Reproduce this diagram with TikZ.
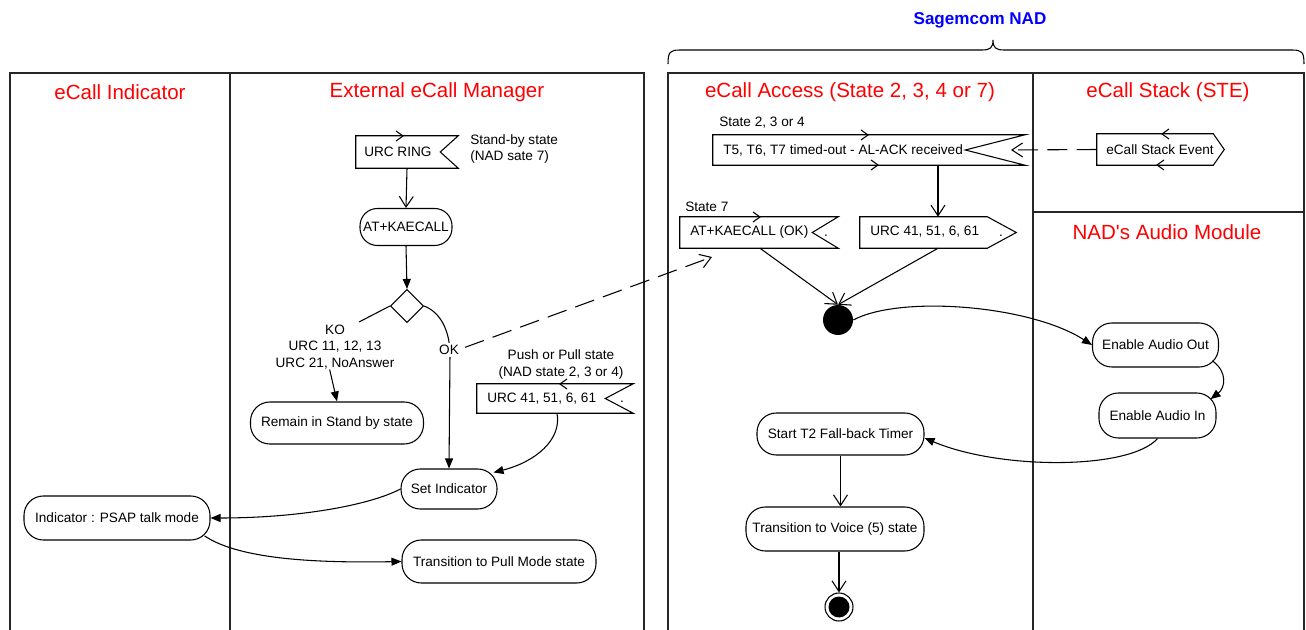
\documentclass[tikz,border=0pt]{standalone}
\usepackage{fontspec}
\setmainfont{Liberation Sans}[Ligatures=TeXOff]
\usetikzlibrary{arrows.meta,shapes.geometric}

% outline of a "receive signal" box (notched on the right)
\newcommand\recvoutline[2]{\draw[line] (#1.north west) -- (#1.north east) -- ([xshift=-#2*0.75pt]#1.east) -- (#1.south east) -- (#1.south west) -- cycle;}
% outline of a "send signal" box (pointed on the right)
\newcommand\sendoutline[2]{\draw[line] (#1.north west) -- ([xshift=-#2*0.75pt]#1.north east) -- (#1.east) -- ([xshift=-#2*0.75pt]#1.south east) -- (#1.south west) -- cycle;}
% small port chevrons on signal boxes
\newcommand\chevR[2]{\draw[line] (#1-7,#2-5) -- (#1,#2) -- (#1-7,#2+5);}
\newcommand\chevL[2]{\draw[line] (#1+7,#2-5) -- (#1,#2) -- (#1+7,#2+5);}

\begin{document}
\begin{tikzpicture}[x=0.75pt,y=-0.75pt,
  every node/.style={font=\fontsize{10.2}{12.5}\selectfont, inner sep=0pt},
  line/.style={draw=black, line width=0.8pt},
  lane/.style={draw=black!85, line width=1pt},
  head/.style={text=red, font=\fontsize{15.4}{18}\selectfont},
  act/.style={draw, line width=0.8pt, rounded corners=14.5pt, align=center},
  sig/.style={draw=none},
  openarr/.style={-{Straight Barb[length=8pt,width=10.5pt]}},
  fillarr/.style={-{Triangle[length=7.5pt,width=6pt]}},
  longdash/.style={dash pattern=on 15pt off 7pt}
]
\useasboundingbox (0,0) rectangle (1306,630);

% ---------- swimlanes ----------
\draw[lane] (10,630) -- (10,73) -- (644,73) -- (644,630);
\draw[lane] (230,73) -- (230,630);
\draw[lane] (668,630) -- (668,73) -- (1304,73) -- (1304,630);
\draw[lane] (1033,73) -- (1033,630);
\draw[lane] (1033,212) -- (1304,212);

% brace over the NAD lanes
\draw[line] (668,64) .. controls (668,52) and (670,50) .. (680,50) -- (982,50)
  .. controls (990,50) and (993,48) .. (993,40)
  .. controls (993,48) and (996,50) .. (1004,50) -- (1292,50)
  .. controls (1302,50) and (1304,52) .. (1304,64);
\node[text=blue, font=\fontsize{12.8}{15}\selectfont\bfseries] (nad) at (980,20) {Sagemcom NAD};

% lane headers
\node[head] (hind) at (120,92) {eCall Indicator};
\node[head] (hmgr) at (437,92) {External eCall Manager};
\node[head] (hacc) at (850,92) {eCall Access (State 2, 3, 4 or 7)};
\node[head] (hstk) at (1168,92) {eCall Stack (STE)};
\node[head] (haud) at (1167,232) {NAD's Audio Module};

% ---------- External eCall Manager ----------
\node[sig, minimum width=102*0.75pt, minimum height=32*0.75pt] (ring) at (407,152) {};
\recvoutline{ring}{18}
\chevR{403}{136}
\node[anchor=west] (ringtxt) at (364,152) {URC RING};
\node[anchor=west, align=left] (standby) at (470,149) {Stand-by state\\(NAD sate 7)};

\node[act, rounded corners=13pt, minimum width=92*0.75pt, minimum height=37*0.75pt] (kae) at (406,227) {AT+KAECALL};
\node[diamond, draw, line width=0.8pt, minimum width=33*0.75pt, minimum height=33*0.75pt] (dec) at (407,306) {};

\node[align=center] (ko) at (335,347) {KO\\URC 11, 12, 13\\URC 21, NoAnswer};
\coordinate (kotip) at (359,322);
\node[act, minimum width=173*0.75pt, minimum height=42*0.75pt] (remain) at (337,423) {Remain in Stand by state};

\node[align=center] (pushlbl) at (561,364.5) {Push or Pull state\\(NAD state 2, 3 or 4)};
\node[sig, minimum width=156*0.75pt, minimum height=29*0.75pt] (urcpush) at (555,398.5) {};
\recvoutline{urcpush}{28}
\chevL{560}{384}
\node[anchor=west] (urcpushtxt) at (487,399) {URC 41, 51, 6, 61};
\node (urcpushdot) at (622,402) {.};

\node[act, minimum width=96*0.75pt, minimum height=40*0.75pt] (setind) at (449,489) {Set Indicator};
\node[act, minimum width=194*0.75pt, minimum height=43*0.75pt] (pull) at (499,561.5) {Transition to Pull Mode state};

% ---------- eCall Indicator ----------
\node[act, minimum width=186*0.75pt, minimum height=44*0.75pt] (ind) at (117,518) {Indicator : PSAP talk mode};

% ---------- eCall Access ----------
\node[anchor=west] (st234) at (719,123) {State 2, 3 or 4};
\node[sig, minimum width=312*0.75pt, minimum height=30*0.75pt] (t5) at (869,150) {};
\recvoutline{t5}{60}
\chevR{868}{135}
\chevR{878}{165}
\node[anchor=west] (t5txt) at (723,150) {T5, T6, T7 timed-out - AL-ACK received};

\node[anchor=west] (st7) at (685,207) {State 7};
\node[sig, minimum width=158*0.75pt, minimum height=31*0.75pt] (kaeok) at (759,232.5) {};
\recvoutline{kaeok}{26}
\chevR{760}{217}
\node[anchor=west] (kaeoktxt) at (690,232) {AT+KAECALL (OK)};
\node (kaeokdot) at (826,236) {.};
\coordinate (kaeokin) at (712,257);

\node[sig, minimum width=156*0.75pt, minimum height=31*0.75pt] (urcsend) at (938,232.5) {};
\sendoutline{urcsend}{29}
\node[anchor=west] (urcsendtxt) at (870,232) {URC 41, 51, 6, 61};
\node (urcsenddot) at (1001,236) {.};

\node[circle, fill=black, minimum size=30*0.75pt] (join) at (838,320) {};

\node[act, minimum width=167*0.75pt, minimum height=42*0.75pt] (t2) at (840.5,434) {Start T2 Fall-back Timer};
\node[act, minimum width=178*0.75pt, minimum height=44*0.75pt] (voice) at (835,529) {Transition to Voice (5) state};
\node[circle, draw, line width=0.8pt, minimum size=28*0.75pt] (fin) at (839,607) {};
\node[circle, fill=black, minimum size=21*0.75pt] (fincore) at (fin) {};

% ---------- eCall Stack ----------
\node[sig, minimum width=127*0.75pt, minimum height=31*0.75pt] (stk) at (1160.5,149.5) {};
\sendoutline{stk}{11}
\chevL{1162}{134}
\chevL{1157}{165}
\node (stktxt) at (1160,150) {eCall Stack Event};
\coordinate (stkin) at (1011,150);

% ---------- NAD's Audio Module ----------
\node[act, minimum width=126*0.75pt, minimum height=44*0.75pt] (aout) at (1155.5,345) {Enable Audio Out};
\node[act, minimum width=117*0.75pt, minimum height=45*0.75pt] (ain) at (1157.5,415.5) {Enable Audio In};

% ---------- connectors ----------
\draw[line, openarr] (ring.south) -- (kae.north);
\draw[line, fillarr] (kae.south) -- (dec.north);
\draw[line] (dec.west) -- (kotip);
\draw[line, fillarr] ([xshift=-4pt]ko.south) -- (remain.north);
\draw[line, fillarr] (dec.east) .. controls (440,312) and (450,330) .. (450,355) -- (setind.north);
\node[fill=white, inner sep=1.5pt] (oklbl) at (449,350) {OK};
\draw[line, longdash, openarr] ([xshift=3pt,yshift=2pt]oklbl.east) -- (kaeokin);
\draw[line, fillarr] ([xshift=1.5pt]urcpush.south) .. controls (562,440) and (535,462) .. ([xshift=-3pt,yshift=-3pt]setind.north east);
\draw[line, fillarr] (setind.west) .. controls (370,505) and (300,518) .. (ind.east);
\draw[line, fillarr] ([xshift=-4.5pt,yshift=3.5pt]ind.south east) .. controls (240,560) and (320,563) .. (pull.west);

\draw[line, longdash, openarr] (stk.west) -- (stkin);
\draw[line, openarr] (urcsend.north |- t5.south) -- (urcsend.north);
\draw[line, openarr] ([xshift=0.75pt]kaeok.south) -- (join.north);
\draw[line, openarr] (urcsend.south) -- (join.north);
\draw[line, fillarr] (join.east) .. controls (900,295) and (1030,305) .. (aout.west);
\draw[line, fillarr] ([xshift=-5pt,yshift=5pt]aout.south east) .. controls (1228,372) and (1225,388) .. ([xshift=-4.5pt,yshift=-5pt]ain.north east);
\draw[line, fillarr] (ain.south) .. controls (1130,470) and (1000,470) .. ([yshift=-3pt]t2.east);
\draw[line, openarr] (t2.south) -- (t2.south |- voice.north);
\draw[line, openarr] (fin.north |- voice.south) -- (fin.north);
\end{tikzpicture}
\end{document}
